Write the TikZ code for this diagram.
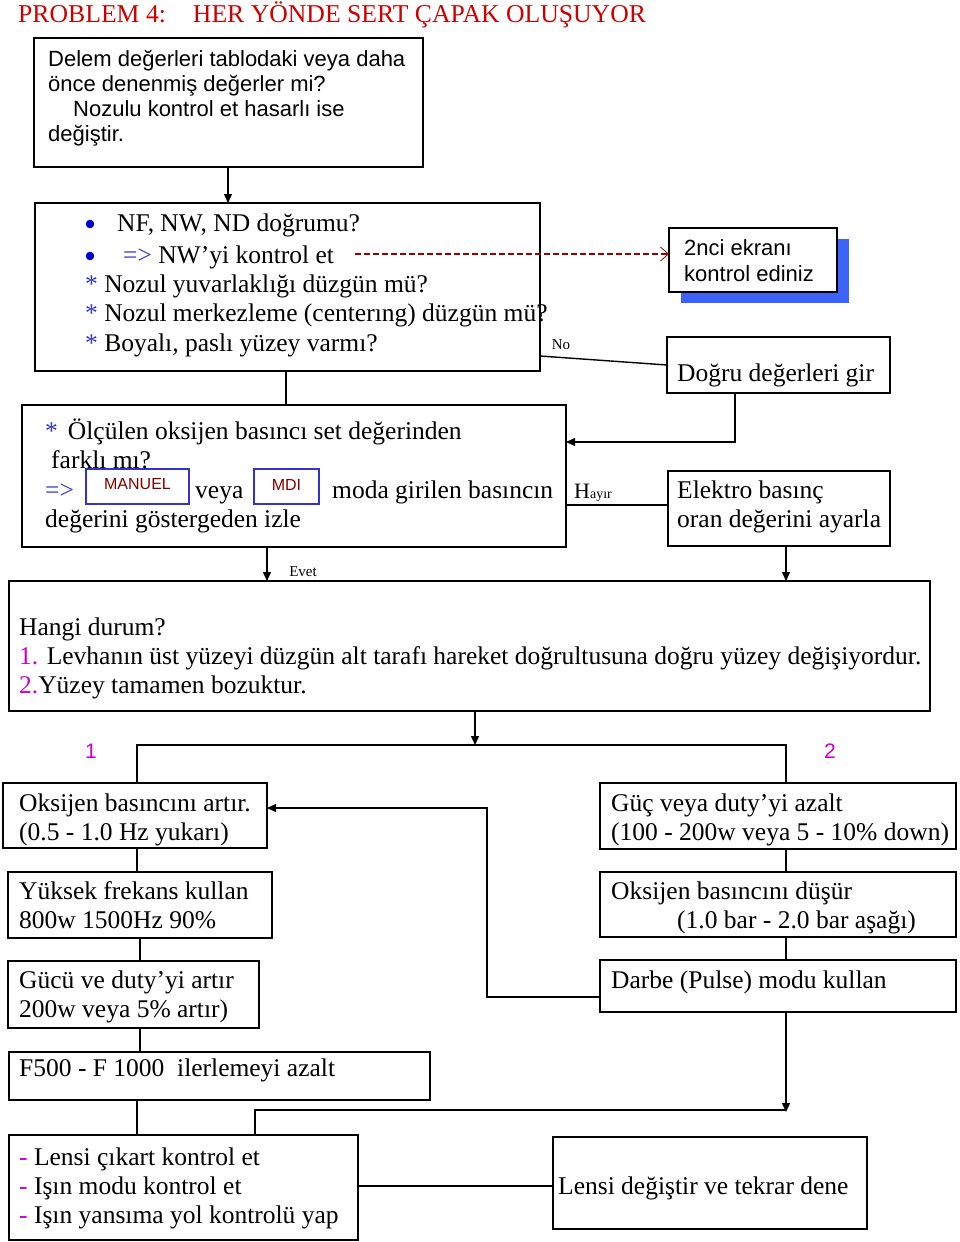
\documentclass[tikz,border=0pt]{standalone}
\usepackage{fontspec}
\setmainfont{Liberation Serif}
\setsansfont{Liberation Sans}
\usetikzlibrary{arrows.meta}
\definecolor{titlered}{RGB}{204,0,0}
\definecolor{dkred}{RGB}{153,0,0}
\definecolor{bl}{RGB}{51,51,204}
\definecolor{bdot}{RGB}{0,0,204}
\definecolor{mag}{RGB}{204,0,204}
\definecolor{shadowblue}{RGB}{60,100,250}
\definecolor{manred}{RGB}{128,0,0}
\newcommand\tmf{\fontsize{25.5}{29}\selectfont}
\newcommand\arf{\sffamily\fontsize{22}{25}\selectfont}
\newcommand\mkbox[6][]{\node[box,#1,minimum width=#5-#3,minimum height=#6-#4] (#2) at (#3,#4) {};}
\begin{document}
\begin{tikzpicture}[x=1pt,y=-1pt,
  box/.style={draw,line width=1.8pt,inner sep=0pt,outer sep=0pt,anchor=north west},
  smallbox/.style={draw=bl,line width=1.3pt},
  t/.style={inner sep=0pt,anchor=base west,font=\tmf},
  a/.style={inner sep=0pt,anchor=base west,font=\arf},
  lbl/.style={inner sep=0pt,font=\fontsize{15}{15}\selectfont},
  ln/.style={line width=1.4pt},
  arr/.style={line width=1.4pt,-{Triangle[length=9pt,width=8pt]}},
  dsh/.style={line width=1.4pt,dkred,dash pattern=on 6pt off 3pt,-{Straight Barb[length=8pt,width=14pt,line width=0.8pt]}}]
\useasboundingbox (0,0) rectangle (960,1242);

% title
\node[t,anchor=base west,font=\fontsize{25.7}{29}\selectfont,text=titlered] (title) at (18,23) {PROBLEM 4:\hspace{27pt}HER YÖNDE SERT ÇAPAK OLUŞUYOR};

% boxes
\mkbox{b1}{34}{38}{423}{167}
\mkbox{b2}{35}{203}{540}{371}
\fill[shadowblue] (681,239) rectangle (849,303);
\mkbox[fill=white]{nci}{669}{228}{837}{292}
\mkbox{dog}{667}{337}{890}{393}
\mkbox{b3}{22}{405}{566}{547}
\mkbox[smallbox]{man}{86}{469}{189}{504}
\mkbox[smallbox]{mdi}{254}{469}{319}{504}
\mkbox{elek}{668}{471}{890}{546}
\mkbox{b4}{9}{581}{930}{711}
\mkbox{L1}{3}{783}{267}{848}
\mkbox{L2}{8}{872}{272}{938}
\mkbox{L3}{8}{961}{259}{1028}
\mkbox{L4}{9}{1052}{430}{1100}
\mkbox{L5}{9}{1135}{358}{1240}
\mkbox{R1}{600}{783}{956}{849}
\mkbox{R2}{600}{872}{956}{937}
\mkbox{R3}{600}{960}{956}{1012}
\mkbox{R4}{553}{1137}{867}{1229}

% box 1 text
\node[a] (t1a) at (48,66) {Delem değerleri tablodaki veya daha};
\node[a] (t1b) at (48,91) {önce denenmiş değerler mi?};
\node[a] (t1c) at (73,116) {Nozulu kontrol et hasarlı ise};
\node[a] (t1d) at (48,141) {değiştir.};

% box 2 text
\fill[bdot] (90,224) circle (4.3);
\fill[bdot] (90,256) circle (4.3);
\node[t] (t2a) at (117,231) {NF, NW, ND doğrumu?};
\node[t] (t2b) at (123,263) {{\color{bl}=>} NW’yi kontrol et};
\node[t] (t2c) at (85,292) {{\color{bl}*} Nozul yuvarlaklığı düzgün mü?};
\node[t] (t2d) at (85,321) {{\color{bl}*} Nozul merkezleme (centerıng) düzgün mü?};
\node[t] (t2e) at (85,351) {{\color{bl}*} Boyalı, paslı yüzey varmı?};

% 2nci box text
\node[a] (tna) at (684,255) {2nci ekranı};
\node[a] (tnb) at (684,281) {kontrol ediniz};

% dogru
\node[t] (tdog) at (677,381) {Doğru değerleri gir};

% box 3 text
\node[t] (t3a) at (45,439) {{\color{bl}*}\hspace{10pt}Ölçülen oksijen basıncı set değerinden};
\node[t] (t3b) at (51,468) {farklı mı?};
\node[t] (t3c) at (45,498) {{\color{bl}=>}};
\node[inner sep=0pt,font=\sffamily\fontsize{16}{16}\selectfont,text=manred] (tman) at ([yshift=2pt]man.center) {MANUEL};
\node[inner sep=0pt,font=\sffamily\fontsize{16}{16}\selectfont,text=manred] (tmdi) at ([yshift=2pt]mdi.center) {MDI};
\node[t] (t3d) at (195,498) {veya};
\node[t] (t3e) at (332,498) {moda girilen basıncın};
\node[t] (t3f) at (45,527) {değerini göstergeden izle};

% elektro
\node[t] (tela) at (677,498) {Elektro basınç};
\node[t] (telb) at (677,527) {oran değerini ayarla};

% box 4
\node[t] (t4a) at (19,635) {Hangi durum?};
\node[t] (t4b) at (19,664) {{\color{mag}1.} Levhanın üst yüzeyi düzgün alt tarafı hareket doğrultusuna doğru yüzey değişiyordur.};
\node[t] (t4c) at (19,693) {{\color{mag}2.}Yüzey tamamen bozuktur.};

% left column
\node[t] (tl1a) at (19,811) {Oksijen basıncını artır.};
\node[t] (tl1b) at (19,840) {(0.5 - 1.0 Hz yukarı)};
\node[t] (tl2a) at (19,899) {Yüksek frekans kullan};
\node[t] (tl2b) at (19,928) {800w 1500Hz 90\%};
\node[t] (tl3a) at (19,988) {Gücü ve duty’yi artır};
\node[t] (tl3b) at (19,1017) {200w veya 5\% artır)};
\node[t] (tl4) at (19,1076) {F500 - F 1000\ \ ilerlemeyi azalt};
\node[t] (tl5a) at (19,1165) {{\color{mag}-} Lensi çıkart kontrol et};
\node[t] (tl5b) at (19,1194) {{\color{mag}-} Işın modu kontrol et};
\node[t] (tl5c) at (19,1223) {{\color{mag}-} Işın yansıma yol kontrolü yap};

% right column
\node[t] (tr1a) at (611,811) {Güç veya duty’yi azalt};
\node[t] (tr1b) at (611,840) {(100 - 200w veya 5 - 10\% down)};
\node[t] (tr2a) at (611,899) {Oksijen basıncını düşür};
\node[t] (tr2b) at (677,928) {(1.0 bar - 2.0 bar aşağı)};
\node[t] (tr3) at (611,988) {Darbe (Pulse) modu kullan};
\node[t] (tr4) at (558,1194) {Lensi değiştir ve tekrar dene};

% labels
\node[lbl] (lno) at (561,345) {No};
\node[lbl] (levet) at (303,572) {Evet};
\node[inner sep=0pt,anchor=base west] (lhayir) at (574,498) {{\fontsize{22}{22}\selectfont H}{\fontsize{14}{14}\selectfont ayır}};
\node[inner sep=0pt,font=\sffamily\fontsize{21}{21}\selectfont,text=mag] (lone) at (91,751) {1};
\node[inner sep=0pt,font=\sffamily\fontsize{21}{21}\selectfont,text=mag] (ltwo) at (830,751) {2};

% helper coordinates
\coordinate (x228) at (228,0);
\coordinate (x286) at (286,0);
\coordinate (k442) at (735,442);
\coordinate (k505) at (600,505);
\coordinate (x267) at (267,0);
\coordinate (x786) at (786,0);
\coordinate (x475) at (475,0);
\coordinate (y745) at (0,745);
\coordinate (x137) at (137,0);
\coordinate (x140) at (140,0);
\coordinate (k808) at (487,808);
\coordinate (y997) at (0,997);
\coordinate (y1112) at (0,1112);
\coordinate (x255) at (255,0);
\coordinate (y1110) at (0,1110);
\coordinate (y1186) at (0,1186);
\coordinate (dstart) at (355,254);

% connectors
\draw[arr] (b1.south -| x228) -- (b2.north -| x228);
\draw[ln] (b2.south -| x286) -- (b3.north -| x286);
\draw[dsh] (dstart) -- (dstart -| nci.west);
\draw[ln] ([yshift=15pt]b2.south east) -- (dog.west);
\draw[arr] (dog.south -| k442) -- (k442) -- (k442 -| b3.east);
\draw[ln] (k505 -| b3.east) -- (k505 -| elek.west);
\draw[arr] (b3.south -| x267) -- (b4.north -| x267);
\draw[arr] (elek.south -| x786) -- (b4.north -| x786);
\draw[arr] (b4.south -| x475) -- (x475 |- y745);
\draw[ln] (L1.north -| x137) -- (x137 |- y745) -- (x786 |- y745) -- (R1.north -| x786);
\draw[ln] (L1.south -| x137) -- (L2.north -| x137);
\draw[ln] (L2.south -| x140) -- (L3.north -| x140);
\draw[ln] (L3.south -| x140) -- (L4.north -| x140);
\draw[ln] (L4.south -| x137) -- (L5.north -| x137);
\draw[ln] (R1.south -| x786) -- (R2.north -| x786);
\draw[ln] (R2.south -| x786) -- (R3.north -| x786);
\draw[arr] (R3.south -| x786) -- (x786 |- y1112);
\draw[arr] (R3.west |- y997) -- (k808 |- y997) -- (k808) -- (k808 -| L1.east);
\draw[ln] (L5.north -| x255) -- (x255 |- y1110) -- (x786 |- y1110);
\draw[ln] (L5.east |- y1186) -- (R4.west |- y1186);
\end{tikzpicture}
\end{document}
